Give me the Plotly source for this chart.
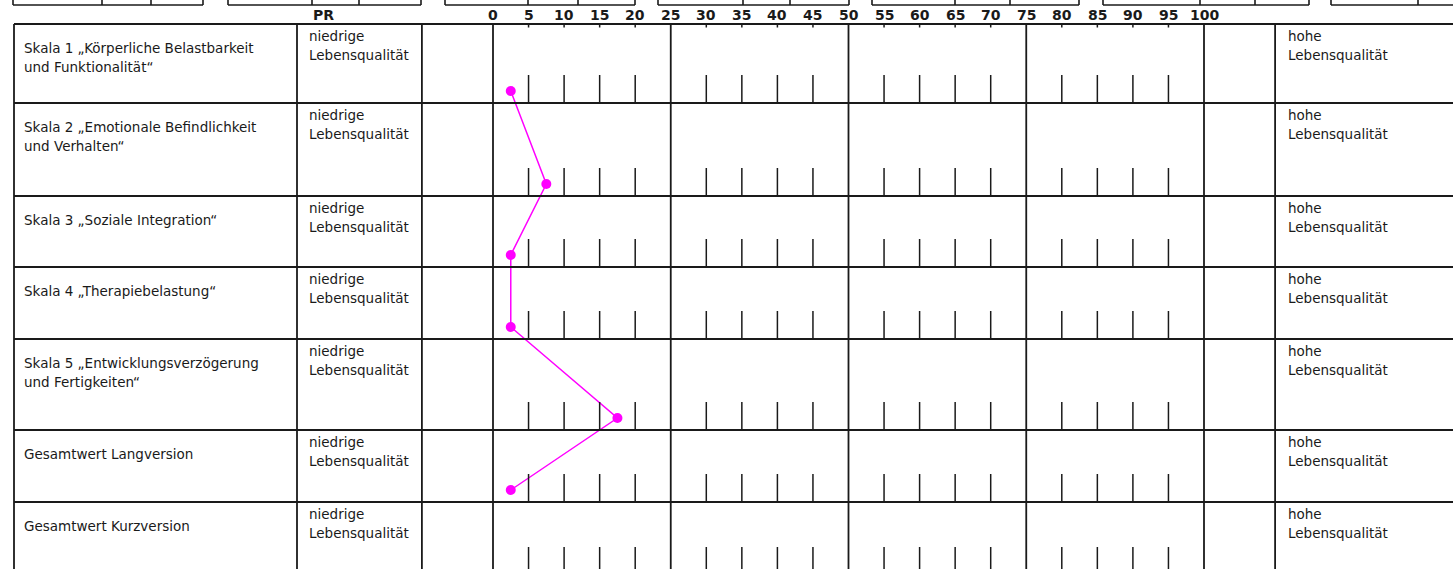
import plotly.graph_objects as go

# ---------------- data ----------------
scales = [
    ["Skala 1 „Körperliche Belastbarkeit", "und Funktionalität\u201c"],
    ["Skala 2 „Emotionale Befindlichkeit", "und Verhalten\u201c"],
    ["Skala 3 „Soziale Integration\u201c"],
    ["Skala 4 „Therapiebelastung\u201c"],
    ["Skala 5 „Entwicklungsverzögerung", "und Fertigkeiten\u201c"],
    ["Gesamtwert Langversion"],
    ["Gesamtwert Kurzversion"],
]
pr_values = [2.5, 7.5, 2.5, 2.5, 17.5, 2.5, None]
tick_values = list(range(0, 101, 5))
tick_labels = [str(v) for v in tick_values]
low_label = ["niedrige", "Lebensqualität"]
high_label = ["hohe", "Lebensqualität"]

# ---------------- layout geometry (pixels) ----------------
W, H = 1453, 569
X0 = 493.0          # pixel of PR 0
PXU = 7.11          # pixels per PR unit
row_edges = [24, 103, 196, 267, 339, 430, 502, 575]
left_border, label_col = 14, 297
full_lines_pr = [-10, 0, 25, 50, 75, 100, 110]
top_boxes = [(13, 203, [102, 151]), (228, 421, [312, 359]), (445, 635, [528, 578]),
             (658, 849, [743, 790]), (872, 1079, [955, 1010]),
             (1103, 1309, [1200, 1255]), (1331, 1460, [1418])]
INK = "#1a1a1a"

def px(x):
    return x / W

def py(y):
    return 1 - y / H

shapes = []

def hline(x1, x2, y, w=1.8):
    shapes.append(dict(type="line", xref="paper", yref="paper", x0=px(x1), x1=px(x2),
                       y0=py(y), y1=py(y), line=dict(color=INK, width=w)))

def vline_px(x, y1, y2, w=1.8):
    shapes.append(dict(type="line", xref="paper", yref="paper", x0=px(x), x1=px(x),
                       y0=py(y1), y1=py(y2), line=dict(color=INK, width=w)))

def vline_pr(v, y1, y2, w=1.8):
    shapes.append(dict(type="line", xref="x", yref="paper", x0=v, x1=v,
                       y0=py(y1), y1=py(y2), line=dict(color=INK, width=w)))

# top partial boxes (from previous table)
for a, b, divs in top_boxes:
    hline(a, b, 5, 1.6)
    for x in [a, b] + divs:
        vline_px(x, -2, 5, 1.6)

# horizontal row lines
for y in row_edges:
    hline(left_border, W + 5, y)

# vertical borders
vline_px(left_border, row_edges[0], H + 5)
vline_px(label_col, row_edges[0], H + 5)
for v in full_lines_pr:
    vline_pr(v, row_edges[0], H + 5)

# short ticks
for v in tick_values:
    if v % 25 == 0:
        continue
    vline_pr(v, row_edges[0], row_edges[0] + 3.5, 1.5)
    for yb in row_edges[1:]:
        vline_pr(v, yb - 28, yb, 1.5)

annotations = []
font_txt = dict(family="DejaVu Sans", size=13.5, color=INK)

def txt(x, y, s, font, xanchor="left", xref="paper"):
    annotations.append(dict(x=px(x) if xref == "paper" else x, y=py(y), xref=xref, yref="paper",
                            text=s, showarrow=False, xanchor=xanchor, yanchor="middle",
                            font=font))

# header
font_bold = dict(family="DejaVu Sans", size=14, color=INK)
txt(323, 15, "<b>PR</b>", font_bold, xanchor="center")
for v, lab in zip(tick_values, tick_labels):
    txt(v, 15, "<b>%s</b>" % lab, font_bold, xanchor="center", xref="x")

# row texts
for i, lines in enumerate(scales):
    top = row_edges[i]
    for j, s in enumerate(lines):
        txt(22, top + 24 + 19 * j, s, font_txt)
    for j, s in enumerate(low_label):
        txt(307, top + 12 + 19 * j, s, font_txt)
    for j, s in enumerate(high_label):
        txt(1286, top + 12 + 19 * j, s, font_txt)

# data trace
ys = [row_edges[i + 1] - 12 for i in range(len(scales))]
fig = go.Figure()
fig.add_trace(go.Scatter(x=pr_values, y=ys, mode="lines+markers",
                         line=dict(color="#ff00ff", width=1.5),
                         marker=dict(color="#ff00ff", size=10),
                         connectgaps=False, showlegend=False, hoverinfo="x"))

fig.update_layout(
    width=W, height=H, margin=dict(l=0, r=0, t=0, b=0),
    paper_bgcolor="white", plot_bgcolor="white",
    xaxis=dict(range=[-X0 / PXU, (W - X0) / PXU], visible=False, fixedrange=True),
    yaxis=dict(range=[H, 0], visible=False, fixedrange=True),
    shapes=shapes, annotations=annotations,
)
fig.write_html("out.html", config={"displayModeBar": False},
               post_script="document.body.style.margin='0';document.body.style.overflow='hidden';")
